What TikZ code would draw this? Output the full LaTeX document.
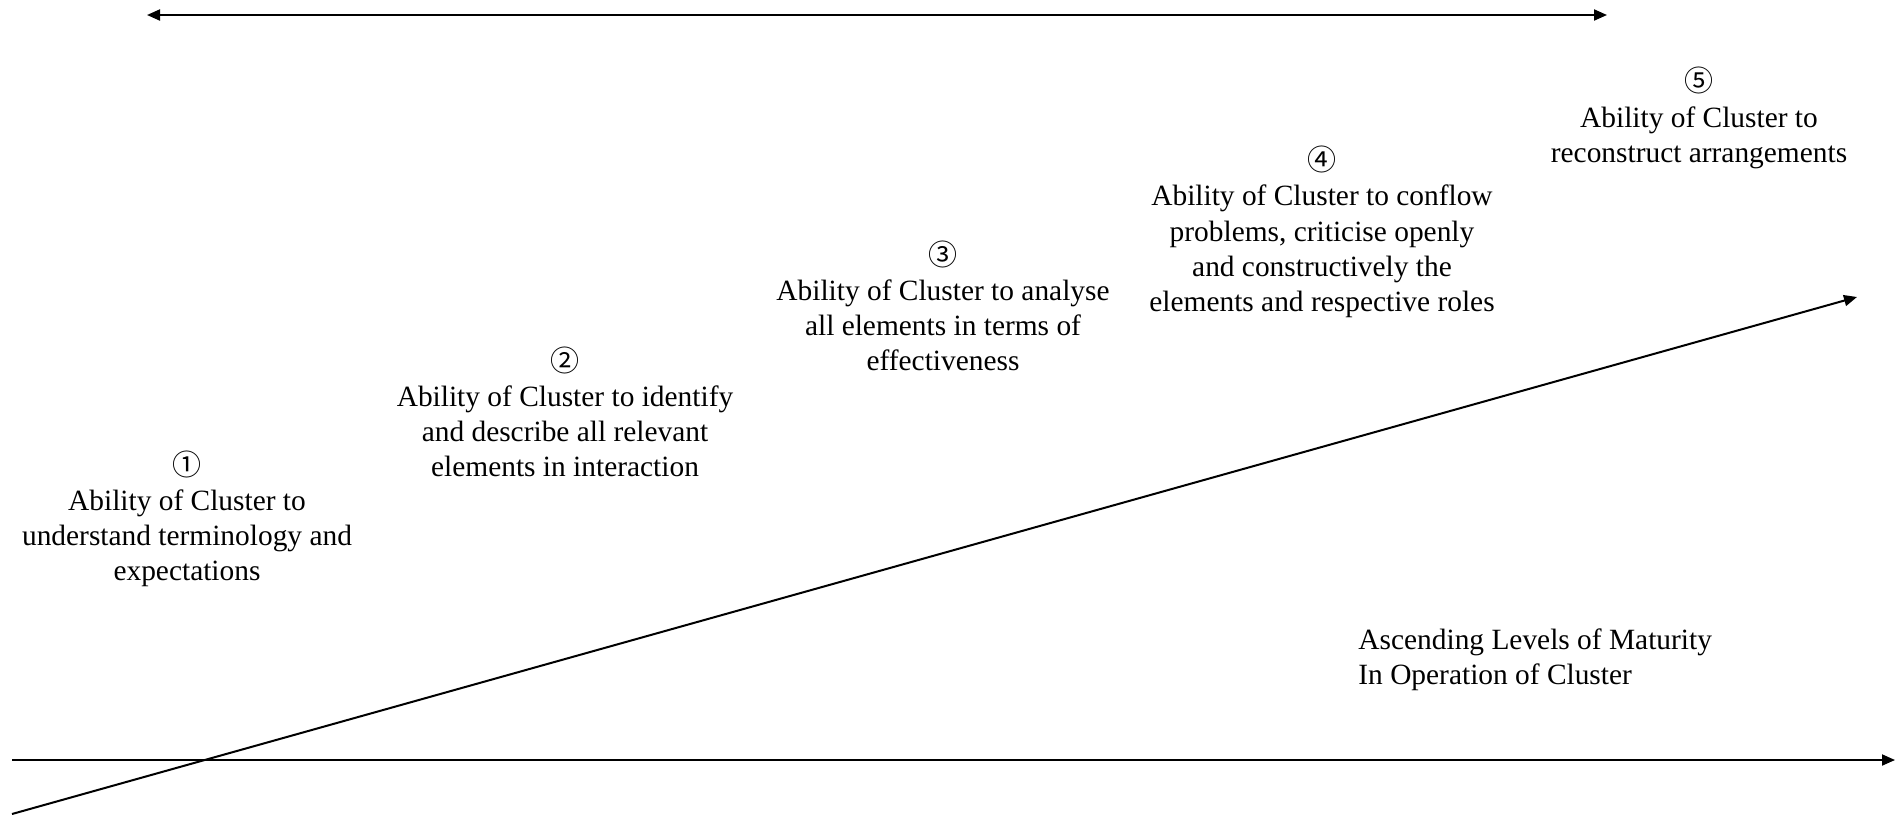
\documentclass[tikz,border=0pt]{standalone}
\usepackage{fontspec}
\setmainfont{Liberation Serif}
\newfontfamily\circfont{Noto Sans CJK JP}
\usetikzlibrary{arrows.meta}
\tikzset{
  lvl/.style={align=center, inner sep=0pt, font=\fontsize{14.7}{17.6}\selectfont},
  note/.style={align=left, inner sep=0pt, font=\fontsize{14.7}{17.6}\selectfont},
  arr/.style={line width=1pt, -{Triangle[length=6.5pt,width=5.5pt]}},
  darr/.style={line width=1pt, {Triangle[length=6.5pt,width=5.5pt]}-{Triangle[length=6.5pt,width=5.5pt]}},
}
\newcommand{\cdig}[1]{{\circfont\fontsize{14.5}{14.5}\selectfont #1}}
\begin{document}
\begin{tikzpicture}[x=0.5pt,y=-0.5pt]
\useasboundingbox (0,0) rectangle (1896,815);
% arrows
\coordinate (tl) at (147,15);
\coordinate (tr) at (1607,15);
\draw[darr] (tl) -- (tr);
\coordinate (hl) at (12,760);
\coordinate (hr) at (1895,760);
\draw[arr] (hl) -- (hr);
\coordinate (dl) at (12,814);
\coordinate (dr) at (1857,297);
\draw[arr] (dl) -- (dr);
% levels
\node[lvl] (l1) at (187,519) {\cdig{①}\\Ability of Cluster to\\understand terminology and\\expectations};
\node[lvl] (l2) at (565,412) {\cdig{②}\\Ability of Cluster to identify\\and describe all relevant\\elements in interaction};
\node[lvl] (l3) at (943,306) {\cdig{③}\\Ability of Cluster to analyse\\all elements in terms of\\effectiveness};
\node[lvl] (l4) at (1322,232) {\cdig{④}\\Ability of Cluster to conflow\\problems, criticise openly\\and constructively the\\elements and respective roles};
\node[lvl] (l5) at (1699,118) {\cdig{⑤}\\Ability of Cluster to\\reconstruct arrangements};
\node[note, anchor=west] (asc) at (1358,660) {Ascending Levels of Maturity\\In Operation of Cluster};
\end{tikzpicture}
\end{document}
